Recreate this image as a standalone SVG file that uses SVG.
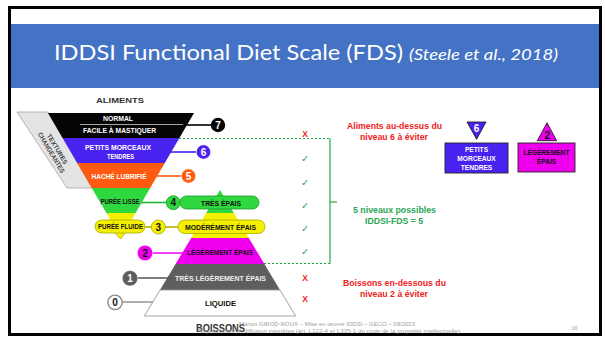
<svg xmlns="http://www.w3.org/2000/svg" width="605" height="337" viewBox="0 0 605 337">
  <style>
    .lbl { font-family: "Liberation Sans", Arial, sans-serif; font-weight: bold; font-size: 6.6px; text-anchor: middle; }
    .wh { fill: #ffffff; }
    .bk { fill: #111111; }
    .num { font-family: "Liberation Sans", Arial, sans-serif; font-weight: bold; font-size: 10px; text-anchor: middle; }
    .note { font-family: "Liberation Sans", Arial, sans-serif; font-weight: bold; font-size: 8.5px; text-anchor: middle; }
    .red { fill: #ee2222; }
    .grn { fill: #2aa653; }
    .chk { font-family: "DejaVu Sans", sans-serif; font-size: 9.5px; fill: #3aa357; text-anchor: middle; }
    .x { font-family: "Liberation Sans", Arial, sans-serif; font-weight: bold; font-size: 8.5px; fill: #ee2222; text-anchor: middle; }
    .foot { font-family: "Liberation Sans", Arial, sans-serif; font-size: 5.6px; fill: #a0a0a0; text-anchor: middle; }
    .link { stroke-width: 1.6; fill: none; }
  </style>

  <!-- slide background and frame -->
  <rect x="0" y="0" width="605" height="337" fill="#ffffff"/>
  <rect x="11" y="24" width="588" height="64" fill="#4472c4"/>
  <rect x="9.5" y="7.5" width="591" height="327" fill="none" stroke="#000000" stroke-width="3"/>

  <!-- title -->
  <g id="title">
    <text x="54" y="60" font-family="Lato, 'Open Sans', sans-serif" font-size="21" fill="#ffffff" textLength="349" lengthAdjust="spacingAndGlyphs">IDDSI Functional Diet Scale (FDS)</text>
    <text x="409" y="60" font-family="Lato, 'Open Sans', sans-serif" font-style="italic" font-size="16" fill="#ffffff" textLength="149" lengthAdjust="spacingAndGlyphs">(Steele et al., 2018)</text>
  </g>

  <!-- side band: changing textures -->
  <g id="textures-changeantes">
    <polygon points="17,112 48,112 92,188 67,188" fill="#e4e4e4" stroke="#a3a3a3" stroke-width="0.8"/>
    <g transform="translate(54,151) rotate(59)">
      <text x="0" y="-1.5" class="lbl" font-size="6" fill="#444444" textLength="34" lengthAdjust="spacingAndGlyphs">TEXTURES</text>
      <text x="0" y="5.5" class="lbl" font-size="6" fill="#444444" textLength="46" lengthAdjust="spacingAndGlyphs">CHANGEANTES</text>
    </g>
  </g>

  <!-- food pyramid (inverted) -->
  <g id="aliments">
    <text x="120" y="102.5" font-family="Liberation Sans, Arial, sans-serif" font-weight="bold" font-size="8" fill="#333333" text-anchor="middle" textLength="48" lengthAdjust="spacingAndGlyphs">ALIMENTS</text>
  </g>
  <g id="niveau-7">
    <polygon points="48,113 194,113 179.4,138 62.6,138" fill="#050505"/>
    <line x1="80" y1="124.5" x2="183" y2="124.5" stroke="#cfcfcf" stroke-width="0.8"/>
    <text x="118" y="120.8" class="lbl wh" textLength="30" lengthAdjust="spacingAndGlyphs">NORMAL</text>
    <text x="119.5" y="132.5" class="lbl wh" textLength="73" lengthAdjust="spacingAndGlyphs">FACILE À MASTIQUER</text>
  </g>
  <g id="niveau-6">
    <polygon points="62.6,138 179.4,138 164.8,163 77.2,163" fill="#4a22f0"/>
    <text x="118" y="149.5" class="lbl wh" textLength="66" lengthAdjust="spacingAndGlyphs">PETITS MORCEAUX</text>
    <text x="120.5" y="158.5" class="lbl wh" textLength="27" lengthAdjust="spacingAndGlyphs">TENDRES</text>
  </g>
  <g id="niveau-5">
    <polygon points="77.2,163 164.8,163 150.2,188 91.8,188" fill="#ff5a0f"/>
    <text x="119" y="178.5" class="lbl wh" textLength="55" lengthAdjust="spacingAndGlyphs">HACHÉ LUBRIFIÉ</text>
  </g>
  <g id="niveau-4-aliment">
    <polygon points="91.8,188 150.2,188 135.6,213 106.4,213" fill="#2fd83f"/>
    <text x="120" y="203.5" class="lbl bk" textLength="39" lengthAdjust="spacingAndGlyphs">PURÉE LISSE</text>
  </g>
  <g id="niveau-3-aliment">
    <polygon points="106.4,213 135.6,213 121,239" fill="#f5f000"/>
    <polygon points="114,232 126,232 120.5,239" fill="#f5f000" stroke="#a8a800" stroke-width="0.7"/>
    <rect x="95" y="220" width="50" height="13" rx="6.5" fill="#f5f000" stroke="#a8a800" stroke-width="0.8"/>
    <text x="120.5" y="229.3" class="lbl bk" textLength="45" lengthAdjust="spacingAndGlyphs">PURÉE FLUIDE</text>
  </g>

  <!-- drinks pyramid (upright) -->
  <g id="niveau-4-boisson">
    <polygon points="220,190 233.8,213 206.2,213" fill="#2fd83f"/>
  </g>
  <g id="niveau-3-boisson">
    <polygon points="206.2,213 233.8,213 248.8,238 191.2,238" fill="#f5f000"/>
  </g>
  <g id="niveau-2">
    <polygon points="191.2,238 248.8,238 264.4,264 175.6,264" fill="#ee00ee"/>
    <text x="220" y="254.5" class="lbl bk" textLength="66" lengthAdjust="spacingAndGlyphs">LÉGÈREMENT ÉPAIS</text>
  </g>
  <g id="niveau-1">
    <polygon points="175.6,264 264.4,264 280,290 160,290" fill="#5e5e5e"/>
    <text x="220.5" y="280.5" class="lbl" fill="#eeeeee" textLength="91" lengthAdjust="spacingAndGlyphs">TRÈS LÉGÈREMENT ÉPAIS</text>
  </g>
  <g id="niveau-0">
    <polygon points="160,290 280,290 295.6,316 144.4,316" fill="#ffffff" stroke="#9a9a9a" stroke-width="0.9"/>
    <text x="220.5" y="305.5" class="lbl bk" textLength="31" lengthAdjust="spacingAndGlyphs">LIQUIDE</text>
  </g>
  <g id="boissons">
    <text x="220.5" y="331.5" font-family="Liberation Sans, Arial, sans-serif" font-weight="bold" font-size="10.5" fill="#333333" text-anchor="middle" textLength="49" lengthAdjust="spacingAndGlyphs">BOISSONS</text>
  </g>

  <!-- connectors: level markers and range bracket -->
  <g id="connectors">
    <line class="link" x1="184" y1="125" x2="212" y2="125" stroke="#000000"/>
    <line class="link" x1="170" y1="152" x2="197" y2="152" stroke="#4a22f0"/>
    <line class="link" x1="157" y1="176" x2="182" y2="176" stroke="#ff5a0f"/>
    <line class="link" x1="141" y1="202.5" x2="167" y2="202.5" stroke="#22b833"/>
    <line class="link" x1="145" y1="227" x2="152" y2="227" stroke="#b8b000"/>
    <line class="link" x1="164" y1="227" x2="178" y2="227" stroke="#b8b000"/>
    <line class="link" x1="152" y1="253" x2="187" y2="253" stroke="#ee00ee"/>
    <line class="link" x1="137" y1="278" x2="172" y2="278" stroke="#555555"/>
    <line class="link" x1="122" y1="302" x2="153" y2="302" stroke="#9a9a9a"/>
    <!-- bracket for the five accepted levels -->
    <line x1="179" y1="138.5" x2="330" y2="138.5" stroke="#22aa44" stroke-width="1" stroke-dasharray="2.2,1.8"/>
    <line x1="264" y1="263.5" x2="330" y2="263.5" stroke="#22aa44" stroke-width="1" stroke-dasharray="2.2,1.8"/>
    <line x1="330" y1="138.5" x2="330" y2="263.5" stroke="#22aa44" stroke-width="1.2"/>
    <line x1="330" y1="202" x2="337" y2="202" stroke="#22aa44" stroke-width="1.2"/>
  </g>

  <!-- level markers -->
  <g id="marqueur-7">
    <circle cx="218" cy="125" r="7.2" fill="#050505"/>
    <text x="218" y="128.6" class="num wh">7</text>
  </g>
  <g id="marqueur-6">
    <circle cx="203.5" cy="152" r="7.2" fill="#4a22f0" stroke="#ffffff" stroke-width="0.6"/>
    <text x="203.5" y="155.6" class="num wh">6</text>
  </g>
  <g id="marqueur-5">
    <circle cx="188.5" cy="176" r="7.2" fill="#ff5a0f" stroke="#ffffff" stroke-width="0.6"/>
    <text x="188.5" y="179.6" class="num wh">5</text>
  </g>
  <g id="marqueur-4">
    <circle cx="173.3" cy="202.7" r="7" fill="#2fd83f" stroke="#1a9a2a" stroke-width="0.8"/>
    <text x="173.3" y="206.3" class="num bk">4</text>
    <rect x="180" y="196" width="79" height="13" rx="6.5" fill="#2fd83f" stroke="#1a9a2a" stroke-width="0.8"/>
    <text x="221" y="205.5" class="lbl bk" textLength="40" lengthAdjust="spacingAndGlyphs">TRÈS ÉPAIS</text>
  </g>
  <g id="marqueur-3">
    <circle cx="158.3" cy="227" r="7" fill="#f5f000" stroke="#a8a800" stroke-width="0.8"/>
    <text x="158.3" y="230.6" class="num bk">3</text>
    <rect x="178" y="220" width="87" height="13.5" rx="6.7" fill="#f5f000" stroke="#a8a800" stroke-width="0.8"/>
    <text x="220.5" y="229.5" class="lbl bk" textLength="71" lengthAdjust="spacingAndGlyphs">MODÉRÉMENT ÉPAIS</text>
  </g>
  <g id="marqueur-2">
    <circle cx="145" cy="253" r="7.8" fill="#ee00ee" stroke="#ffffff" stroke-width="0.6"/>
    <text x="145" y="256.6" class="num bk">2</text>
  </g>
  <g id="marqueur-1">
    <circle cx="130" cy="278.3" r="7.8" fill="#5e5e5e" stroke="#ffffff" stroke-width="0.6"/>
    <text x="130" y="281.9" class="num wh">1</text>
  </g>
  <g id="marqueur-0">
    <circle cx="115" cy="302.3" r="7.2" fill="#ffffff" stroke="#8a8a8a" stroke-width="1.4"/>
    <text x="115" y="305.9" class="num bk">0</text>
  </g>

  <!-- verdict per level -->
  <g id="verdicts">
    <text x="305" y="137" class="x">X</text>
    <text x="305" y="161.5" class="chk">✓</text>
    <text x="305" y="185.5" class="chk">✓</text>
    <text x="305" y="208.5" class="chk">✓</text>
    <text x="305" y="231.5" class="chk">✓</text>
    <text x="305" y="254.5" class="chk">✓</text>
    <text x="305" y="281" class="x">X</text>
    <text x="305" y="302" class="x">X</text>
  </g>

  <!-- explanatory notes -->
  <g id="note-aliments">
    <text x="394.5" y="129" class="note red" textLength="95" lengthAdjust="spacingAndGlyphs">Aliments au-dessus du</text>
    <text x="394" y="139.5" class="note red" textLength="68" lengthAdjust="spacingAndGlyphs">niveau 6 à éviter</text>
  </g>
  <g id="note-fds">
    <text x="394.5" y="213" class="note grn" textLength="83" lengthAdjust="spacingAndGlyphs">5 niveaux possibles</text>
    <text x="394" y="224" class="note grn" textLength="58" lengthAdjust="spacingAndGlyphs">IDDSI-FDS = 5</text>
  </g>
  <g id="note-boissons">
    <text x="394.5" y="286" class="note red" textLength="103" lengthAdjust="spacingAndGlyphs">Boissons en-dessous du</text>
    <text x="394" y="297" class="note red" textLength="68" lengthAdjust="spacingAndGlyphs">niveau 2 à éviter</text>
  </g>

  <!-- limit cards -->
  <g id="carte-6">
    <polygon points="467,122 486,122 476.6,139.3" fill="#4a22f0" stroke="#111111" stroke-width="0.8"/>
    <text x="476.6" y="131.8" class="num wh" font-size="9.5">6</text>
    <rect x="445" y="143" width="63" height="30" fill="#4a22f0" stroke="#222222" stroke-width="0.9"/>
    <text x="476.5" y="151.5" class="lbl wh" font-size="5.6">PETITS</text>
    <text x="476.5" y="160.5" class="lbl wh" font-size="5.6">MORCEAUX</text>
    <text x="476.5" y="170" class="lbl wh" font-size="5.6">TENDRES</text>
  </g>
  <g id="carte-2">
    <polygon points="547,122.7 537.3,140.7 556.7,140.7" fill="#ee00ee" stroke="#111111" stroke-width="0.8"/>
    <text x="547.2" y="139.2" class="num bk" font-size="10">2</text>
    <rect x="518" y="143" width="57" height="29" fill="#ee00ee" stroke="#222222" stroke-width="0.9"/>
    <text x="546.5" y="155" class="lbl bk" font-size="5.8">LÉGÈREMENT</text>
    <text x="546.5" y="164" class="lbl bk" font-size="5.8">ÉPAIS</text>
  </g>

  <!-- footer -->
  <g id="footer">
    <text x="327" y="326" class="foot" textLength="176" lengthAdjust="spacingAndGlyphs">Marion GIROD-ROUX – Mise en œuvre IDDSI – GECO – 09/2023</text>
    <text x="329" y="332.8" class="foot" textLength="262" lengthAdjust="spacingAndGlyphs">Reproduction et diffusion interdites (art. L122-4 et L335-1 du code de la propriété intellectuelle)</text>
    <text x="574.5" y="330" class="foot" font-size="6.5">16</text>
  </g>
</svg>
